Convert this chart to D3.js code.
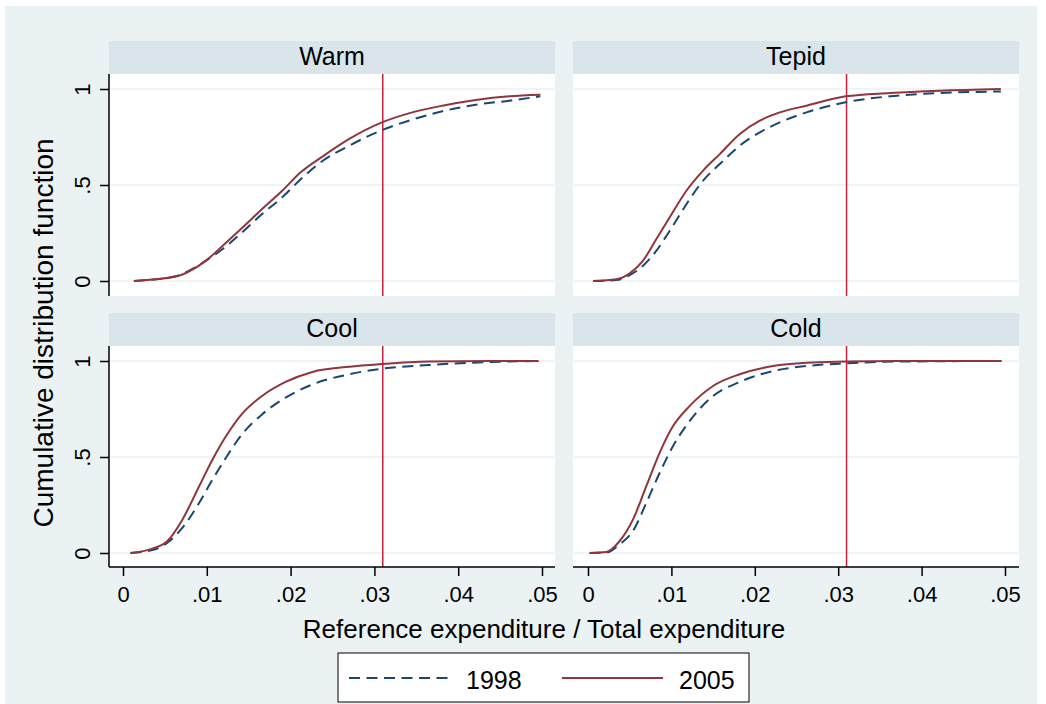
<html>
<head>
<script src="https://d3js.org/d3.v7.min.js"></script>
<style>
  body { margin: 0; background: #fff; }
  svg { font-family: "Liberation Sans", Arial, sans-serif; }
  .axis path, .axis line { stroke: #000; stroke-width: 1.5px; }
</style>
</head>
<body>
<div id="chart"></div>
<script>
// panel names and the read-off CDF values (x = share, y = cumulative prob.)
var panelNames = ["Warm", "Tepid", "Cool", "Cold"];
var seriesNames = ["1998", "2005"];

var warmX    = [0.0013, 0.0063, 0.0079, 0.0099, 0.0119, 0.0142, 0.0166, 0.019, 0.0212, 0.0238, 0.027, 0.0309, 0.0341, 0.0381, 0.0421, 0.0461, 0.0498];
var warm1998 = [0, 0.025, 0.054, 0.106, 0.167, 0.253, 0.349, 0.436, 0.53, 0.625, 0.705, 0.786, 0.835, 0.884, 0.918, 0.939, 0.962];
var warm2005 = [0, 0.023, 0.05, 0.106, 0.184, 0.276, 0.375, 0.47, 0.566, 0.648, 0.74, 0.826, 0.873, 0.913, 0.943, 0.962, 0.97];

var tepidX    = [0.0006, 0.0034, 0.005, 0.0066, 0.0082, 0.0098, 0.0118, 0.0138, 0.0158, 0.0182, 0.0206, 0.023, 0.0262, 0.0309, 0.0362, 0.0422, 0.0495];
var tepid1998 = [0, 0.005, 0.031, 0.08, 0.158, 0.262, 0.4, 0.523, 0.609, 0.705, 0.774, 0.826, 0.878, 0.931, 0.962, 0.979, 0.987];
var tepid2005 = [0, 0.009, 0.04, 0.106, 0.219, 0.332, 0.47, 0.575, 0.661, 0.766, 0.835, 0.878, 0.913, 0.962, 0.979, 0.991, 1.0];

var coolX    = [0.0009, 0.0035, 0.0053, 0.0071, 0.0091, 0.0107, 0.0123, 0.0142, 0.0166, 0.0194, 0.0226, 0.027, 0.0309, 0.0365, 0.044, 0.0496];
var cool1998 = [0, 0.015, 0.054, 0.132, 0.262, 0.384, 0.497, 0.618, 0.722, 0.809, 0.878, 0.931, 0.96, 0.979, 0.995, 1.0];
var cool2005 = [0, 0.023, 0.0625, 0.175, 0.349, 0.488, 0.609, 0.725, 0.818, 0.891, 0.943, 0.97, 0.984, 0.997, 1.0, 1.0];

var coldX    = [0.0002, 0.0022, 0.0038, 0.0054, 0.007, 0.0086, 0.0102, 0.0122, 0.015, 0.0182, 0.0222, 0.0262, 0.0309, 0.037, 0.0496];
var cold1998 = [0, 0.002, 0.045, 0.115, 0.262, 0.418, 0.557, 0.688, 0.818, 0.891, 0.948, 0.974, 0.988, 0.997, 1.0];
var cold2005 = [0, 0.005, 0.0625, 0.175, 0.349, 0.523, 0.661, 0.766, 0.87, 0.931, 0.974, 0.991, 0.997, 1.0, 1.0];

var refLine = 0.031;
var xTicks = [0, 0.01, 0.02, 0.03, 0.04, 0.05];
var yTicks = [0, 0.5, 1];

var width = 1046;
var height = 704;

var bgColor = "#eaf2f3";
var stripColor = "#d9e5ea";
var color1998 = "#1a476f";
var color2005 = "#90353b";
var refColor = "#c8203f";
var tickFont = "22px";

var svg = d3.select("#chart").append("svg")
  .attr("width", width)
  .attr("height", height);

svg.append("rect")
  .attr("x", 5).attr("y", 6)
  .attr("width", 1032).attr("height", 700)
  .attr("fill", bgColor);

/* panel layout */
var cols = [{x0: 109, x1: 555, zero: 123, five: 542},
            {x0: 573, x1: 1019, zero: 588, five: 1005}];
var rows = [{strip: 41, top: 74, bottom: 296, zero: 281, one: 89},
            {strip: 313, top: 346, bottom: 567, zero: 553, one: 361}];

var panelData = [
  {x: warmX, s: [warm1998, warm2005]},
  {x: tepidX, s: [tepid1998, tepid2005]},
  {x: coolX, s: [cool1998, cool2005]},
  {x: coldX, s: [cold1998, cold2005]}
];

var xFormat = d => d === 0 ? "0" : d3.format(".2f")(d).replace(/^0/, "");
var yFormat = d => d === 0 ? "0" : d === 1 ? "1" : ".5";

panelNames.forEach(function(name, i) {
  var c = cols[i % 2], r = rows[Math.floor(i / 2)];
  var xScale = d3.scaleLinear().domain([0, 0.05]).range([c.zero, c.five]);
  var yScale = d3.scaleLinear().domain([0, 1]).range([r.zero, r.one]);
  var g = svg.append("g");

  // strip
  g.append("rect")
    .attr("x", c.x0).attr("y", r.strip)
    .attr("width", c.x1 - c.x0).attr("height", r.top - r.strip)
    .attr("fill", stripColor);
  g.append("text")
    .attr("x", (c.x0 + c.x1) / 2).attr("y", r.strip + 24)
    .attr("text-anchor", "middle")
    .style("font-size", "25px")
    .text(name);

  // plot region
  g.append("rect")
    .attr("x", c.x0).attr("y", r.top)
    .attr("width", c.x1 - c.x0).attr("height", r.bottom - r.top)
    .attr("fill", "#fff");

  g.selectAll(".grid")
    .data(yTicks).enter()
    .append("line")
    .attr("x1", c.x0).attr("x2", c.x1)
    .attr("y1", d => yScale(d)).attr("y2", d => yScale(d))
    .attr("stroke", bgColor)
    .attr("stroke-width", 1.5);

  // reference line
  g.append("line")
    .attr("x1", xScale(refLine)).attr("x2", xScale(refLine))
    .attr("y1", r.top).attr("y2", r.bottom)
    .attr("stroke", refColor)
    .attr("stroke-width", 1.5);

  var line = d3.line()
    .x((d, j) => xScale(panelData[i].x[j]))
    .y(d => yScale(d))
    .curve(d3.curveMonotoneX);

  g.append("path")
    .attr("d", line(panelData[i].s[0]))
    .attr("fill", "none")
    .attr("stroke", color1998)
    .attr("stroke-width", 2)
    .attr("stroke-dasharray", "11,6.5");

  g.append("path")
    .attr("d", line(panelData[i].s[1]))
    .attr("fill", "none")
    .attr("stroke", color2005)
    .attr("stroke-width", 2);

  // y axis on left column
  if (i % 2 === 0) {
    var yAxis = g.append("g")
      .attr("class", "axis")
      .attr("transform", `translate(${c.x0}, 0)`)
      .call(d3.axisLeft(yScale).tickValues(yTicks).tickFormat(yFormat).tickSize(9).tickSizeOuter(0));
    yAxis.attr("font-family", null).attr("font-size", null);
    yAxis.select(".domain").attr("d", `M0,${r.top}V${r.bottom}`);
    yAxis.selectAll(".tick text")
      .attr("x", null).attr("dy", null)
      .attr("text-anchor", "middle")
      .attr("fill", "#000")
      .style("font-size", tickFont)
      .attr("transform", "translate(-19, 0) rotate(-90)");
  }
  // x axis on bottom row
  if (i >= 2) {
    var xAxis = g.append("g")
      .attr("class", "axis")
      .attr("transform", `translate(0, ${r.bottom})`)
      .call(d3.axisBottom(xScale).tickValues(xTicks).tickFormat(xFormat).tickSize(9).tickSizeOuter(0));
    xAxis.attr("font-family", null).attr("font-size", null);
    xAxis.select(".domain").attr("d", `M${c.x0},0H${c.x1}`);
    xAxis.selectAll(".tick text")
      .attr("dy", null)
      .attr("y", 35)
      .attr("fill", "#000")
      .style("font-size", tickFont);
  }
});

/* axis titles */
svg.append("text")
  .attr("x", 544).attr("y", 638)
  .attr("text-anchor", "middle")
  .style("font-size", "26px")
  .text("Reference expenditure / Total expenditure");

svg.append("text")
  .attr("transform", "translate(53, 333) rotate(-90)")
  .attr("text-anchor", "middle")
  .style("font-size", "28px")
  .text("Cumulative distribution function");

/* legend */
var legend = svg.append("g");
legend.append("rect")
  .attr("x", 338).attr("y", 653)
  .attr("width", 411).attr("height", 49)
  .attr("fill", "#fff")
  .attr("stroke", "#000")
  .attr("stroke-width", 1);

var legendItems = [
  {name: seriesNames[0], color: color1998, dash: "11,6.5", x: 349},
  {name: seriesNames[1], color: color2005, dash: null, x: 562}
];
legendItems.forEach(function(d) {
  legend.append("line")
    .attr("x1", d.x).attr("x2", d.x + 101)
    .attr("y1", 678).attr("y2", 678)
    .attr("stroke", d.color)
    .attr("stroke-width", 2)
    .attr("stroke-dasharray", d.dash);
  legend.append("text")
    .attr("x", d.x + 117).attr("y", 689)
    .style("font-size", "25px")
    .text(d.name);
});
</script>
</body>
</html>
